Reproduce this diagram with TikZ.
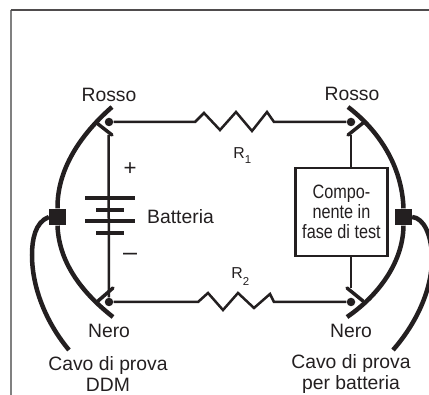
\documentclass[tikz,border=0pt]{standalone}
\usepackage{fontspec}
\setmainfont{Liberation Sans}
\definecolor{inkblack}{RGB}{35,31,32}

\tikzset{
  wire/.style={draw=inkblack, line width=.5mm},
  lead/.style={draw=inkblack, line width=.9mm},
  jaw/.style={draw=inkblack, line width=.7mm, line cap=round},
  plate/.style={draw=inkblack, line width=.8mm},
  clipdot/.style={circle, fill=inkblack, inner sep=0pt, minimum size=1.7mm},
  jack/.style={rectangle, fill=inkblack, inner sep=0pt, minimum size=3.3mm},
  lab/.style={text=inkblack, inner sep=0pt, font=\fontsize{11}{11.4}\selectfont, align=center},
  smalllab/.style={text=inkblack, inner sep=0pt, font=\fontsize{9}{10}\selectfont},
  sublab/.style={text=inkblack, inner sep=0pt, font=\fontsize{6.5}{7}\selectfont},
}

\begin{document}
\begin{tikzpicture}[x=.2mm,y=-.2mm]

\useasboundingbox (0,0) rectangle (429,395);

\draw [draw=gray, line width=.4mm] (11,395) -- (11,10);
\draw [draw=inkblack!80, line width=.3mm] (10.6,10) -- (429,10);

\node [clipdot] (topL) at (109,122) {};
\node [clipdot] (topR) at (351,122) {};
\node [clipdot] (botL) at (109,302) {};
\node [clipdot] (botR) at (351,302) {};
\node [jack] (jackL) at (57.5,217) {};
\node [jack] (jackR) at (403.5,217) {};

\node [lab, draw=inkblack, line width=.5mm, minimum width=18.4mm, minimum height=17.6mm, fill=white] (dut) at (341.5,212) {};
\node [lab, xscale=.84, transform shape] (dutText) at (341.5,212) {Compo-\\nente in\\fase di test};

\draw [lead] (112,107) .. controls (80,135) and (57,170) .. (jackL.north);
\draw [lead] (jackL.south) .. controls (59,265) and (85,295) .. (113,317);
\draw [lead] (348,107) .. controls (378,130) and (402,165) .. (jackR.north);
\draw [lead] (jackR.south) .. controls (403,265) and (375,298) .. (347,317);

\draw [lead] (jackL.west) .. controls (35,222) and (32,240) .. (32,255) .. controls (32,290) and (48,325) .. (69,350);
\draw [lead] (jackR.east) .. controls (424,218) and (431,235) .. (432,255) .. controls (433,290) and (415,325) .. (393,350);

\draw [jaw] (112,135) -- (98,124);
\draw [jaw] (113,288) -- (98,301);
\draw [jaw] (348,135) -- (363,123);
\draw [jaw] (347,288) -- (363,301);

\draw [wire] (topL) -- (195,122) -- (204,113) -- (220,130) -- (236,112) -- (252,131) -- (267,112) -- (274,122) -- (topR);
\draw [wire] (botL) -- (198,302) -- (208,293) -- (223,310) -- (238,293) -- (254,308) -- (270,294) -- (274,302) -- (botR);

\draw [wire] (108.5,135) -- (botL);
\draw [wire] (351,135) -- (351,168);
\draw [wire] (351,256) -- (351,288);

\draw [plate] (85,198) -- (135,198);
\draw [plate] (96,210) -- (124,210);
\draw [plate] (85,221) -- (135,221);
\draw [plate] (96,233) -- (124,233);

\node [lab, scale=1.15] (plus) at (130,169) {+};
\node [lab, scale=1.3] (minus) at (130,257) {--};
\node [lab] (batt) at (180.5,217) {Batteria};

\node [lab] (rossoL) at (109,95) {Rosso};
\node [lab] (rossoR) at (352,94) {Rosso};
\node [lab] (neroL) at (109,331) {Nero};
\node [lab] (neroR) at (351,331) {Nero};

\node [smalllab] (resA) at (239,153) {R};
\node [sublab] (resAsub) at (248,160) {1};
\node [smalllab] (resB) at (237,273) {R};
\node [sublab] (resBsub) at (246,282) {2};

\node [lab] (cavoL) at (108,374) {Cavo di prova\\DDM};
\node [lab] (cavoR) at (351,374) {Cavo di prova\\per batteria};

\end{tikzpicture}
\end{document}
